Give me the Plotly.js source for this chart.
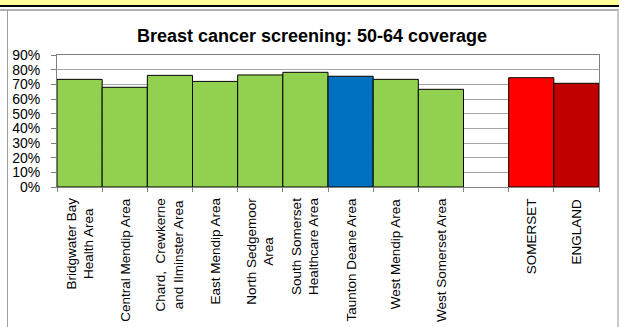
<!DOCTYPE html>
<html>
<head>
<meta charset="utf-8">
<script src="https://cdn.plot.ly/plotly-3.0.1.min.js"></script>
<style>
  html, body { margin: 0; padding: 0; background: #ffffff; }
  #wrap { position: relative; width: 619px; height: 327px; overflow: hidden; }
  #chart { position: absolute; left: 0; top: 0; width: 619px; height: 327px; }
  .deco { position: absolute; pointer-events: none; }
</style>
</head>
<body>
<div id="wrap">
  <div id="chart"></div>
  <div class="deco" style="left:0;top:0;width:619px;height:5px;background:#FFFF99;"></div>
  <div class="deco" style="left:0;top:5px;width:619px;height:2px;background:#000000;"></div>
  <div class="deco" style="left:0;top:9px;width:619px;height:2px;background:#B0B0B0;"></div>
  <div class="deco" style="left:7px;top:10px;width:1px;height:317px;background:#A0A0A0;"></div>
  <div class="deco" style="left:617px;top:10px;width:2px;height:317px;background:#C8C8C8;"></div>
</div>
<script>
const categories = [
  "Bridgwater Bay<br>Health Area",
  "Central Mendip Area",
  "Chard,  Crewkerne<br>and Ilminster Area",
  "East Mendip Area",
  "North Sedgemoor<br>Area",
  "South Somerset<br>Healthcare Area",
  "Taunton Deane Area",
  "West Mendip Area",
  "West Somerset Area",
  " ",
  "SOMERSET",
  "ENGLAND"
];
const coverage = [0.734, 0.680, 0.761, 0.720, 0.764, 0.782, 0.755, 0.734, 0.666, null, 0.745, 0.707];
const barColors = ["#92D050", "#92D050", "#92D050", "#92D050", "#92D050", "#92D050",
                   "#0070C0", "#92D050", "#92D050", "#FFFFFF", "#FF0000", "#C00000"];
const yTicks = [0, 0.1, 0.2, 0.3, 0.4, 0.5, 0.6, 0.7, 0.8, 0.9];

const FONT = "Liberation Sans, Arial, sans-serif";

const trace = {
  type: "bar",
  x: categories,
  y: coverage,
  marker: { color: barColors, line: { color: "#000000", width: 1 } },
  hoverinfo: "skip"
};

const labelAnnotations = categories.map(c => ({
  x: c, xref: "x",
  y: 0, yref: "paper",
  xanchor: "center", yanchor: "top",
  yshift: -9,
  textangle: -90,
  align: "center",
  showarrow: false,
  text: c,
  font: { family: FONT, size: 13.5, color: "#000000" }
}));

const layout = {
  width: 619,
  height: 327,
  margin: { l: 57, r: 20, t: 55, b: 140, pad: 0 },
  paper_bgcolor: "#ffffff",
  plot_bgcolor: "#ffffff",
  bargap: 0,
  showlegend: false,
  font: { family: FONT, color: "#000000" },
  title: {
    text: "<b>Breast cancer screening: 50-64 coverage</b>",
    font: { family: FONT, size: 18, color: "#000000" },
    x: 312 / 619, xanchor: "center", xref: "container",
    y: 1 - 36 / 327, yanchor: "middle", yref: "container"
  },
  xaxis: {
    type: "category",
    categoryorder: "array",
    categoryarray: categories,
    tickson: "boundaries",
    ticks: "outside",
    ticklen: 4,
    tickcolor: "#808080",
    showticklabels: false,
    showline: true,
    linecolor: "#808080",
    linewidth: 1,
    mirror: true,
    showgrid: false,
    zeroline: false,
    fixedrange: true
  },
  yaxis: {
    range: [0, 0.9],
    tickvals: yTicks,
    tickformat: ".0%",
    ticks: "outside",
    ticklen: 5,
    tickcolor: "#808080",
    ticklabelstandoff: 8,
    tickfont: { size: 14, family: FONT },
    showline: true,
    linecolor: "#808080",
    linewidth: 1,
    mirror: true,
    showgrid: true,
    gridcolor: "#A6A6A6",
    gridwidth: 1,
    zeroline: false,
    fixedrange: true
  },
  annotations: labelAnnotations
};

Plotly.newPlot("chart", [trace], layout, { staticPlot: true, displayModeBar: false });
</script>
</body>
</html>
